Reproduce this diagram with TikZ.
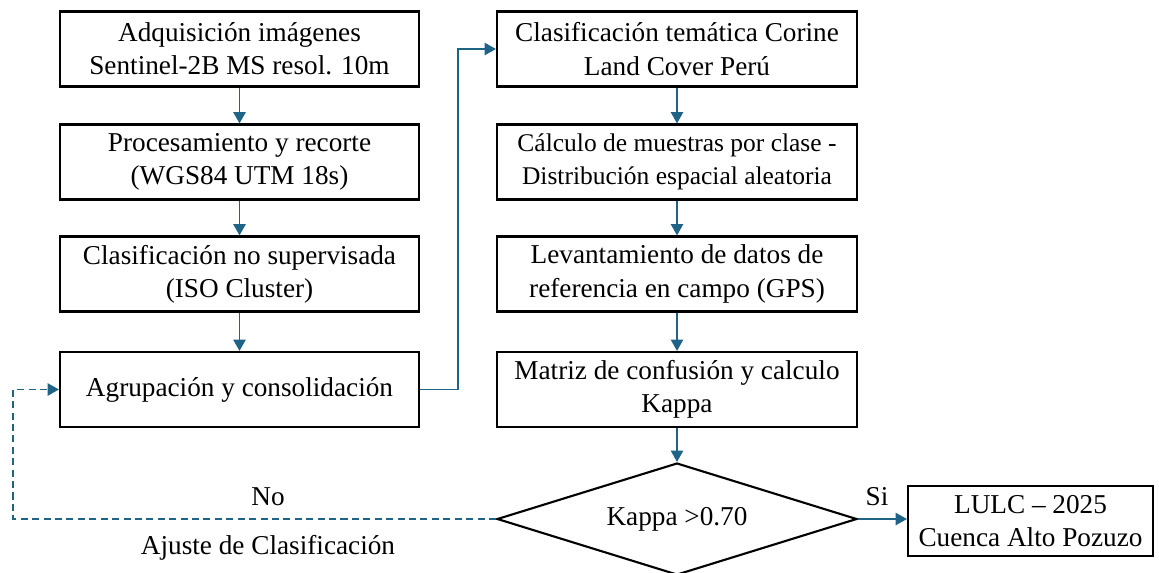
\documentclass[tikz,border=0pt]{standalone}
\usepackage{fontspec}
\setmainfont{Liberation Serif}
\usepackage{tikz}
\usetikzlibrary{positioning,
calc,
shapes.geometric,
arrows.meta}
\definecolor{flowblue}{RGB}{31,100,135}
\tikzstyle{Step} = [
draw=black,
line width=1.2pt,
align=center,
inner sep=0pt,
minimum width=7.18cm,
minimum height=1.5cm,
font=\fontsize{15.5}{19}\selectfont
]
\tikzstyle{Arrow} = [
draw=flowblue,
line width=1.1pt,
-{Triangle[length=6.5pt, width=7pt]}
]

\begin{document}
\begin{tikzpicture}[x=0.02cm, y=-0.02cm]
   \useasboundingbox (0,0) rectangle (1159,572);
   \node [Step] (a1) at (239.5,49) {Adquisición imágenes\\Sentinel-2B MS resol. 10m};
   \node [Step] (a2) at (239.5,162) {Procesamiento y recorte\\(WGS84 UTM 18s)};
   \node [Step] (a3) at (239.5,274) {Clasificación no supervisada\\(ISO Cluster)};
   \node [Step] (a4) at (239.5,389.5) {Agrupación y consolidación};
   \node [Step, minimum width=7.2cm] (c1) at (677,49) {Clasificación temática Corine\\Land Cover Perú};
   \node [Step, minimum width=7.2cm, font=\fontsize{14.5}{19}\selectfont] (c2) at (677,162) {Cálculo de muestras por clase -\\Distribución espacial aleatoria};
   \node [Step, minimum width=7.2cm] (c3) at (677,274) {Levantamiento de datos de\\referencia en campo (GPS)};
   \node [Step, minimum width=7.2cm] (c4) at (677,389.5) {Matriz de confusión y calculo\\Kappa};
   \node [Step, diamond, aspect=3.2, minimum width=7.2cm, minimum height=2.24cm] (k) at (677,519) {Kappa >0.70};
   \node [Step, minimum width=4.9cm, minimum height=1.4cm] (res) at (1030.5,521) {LULC – 2025\\Cuenca Alto Pozuzo};
    \node [font=\fontsize{15.5}{19}\selectfont] (no) at (268,497) {No};
    \node [font=\fontsize{15.5}{19}\selectfont] (aj) at (268,548) {Ajuste de Clasificación};
    \node [font=\fontsize{15.5}{19}\selectfont] (si) at (877,497) {Si};

   \draw [Arrow] (a1) to (a2);
   \draw [Arrow] (a2) to (a3);
   \draw [Arrow] (a3) to (a4);
   \draw [Arrow] (a4.east) -- ++(38,0) |- (c1.west);
   \draw [Arrow] (c1) to (c2);
   \draw [Arrow] (c2) to (c3);
   \draw [Arrow] (c3) to (c4);
   \draw [Arrow] (c4) to (k);
   \draw [Arrow] (k.east) -- (k.east -| res.west);
   \draw [Arrow, dash pattern=on 4pt off 2.5pt] (k.west) -- (13,519) |- (a4.west);
\end{tikzpicture}
\end{document}
